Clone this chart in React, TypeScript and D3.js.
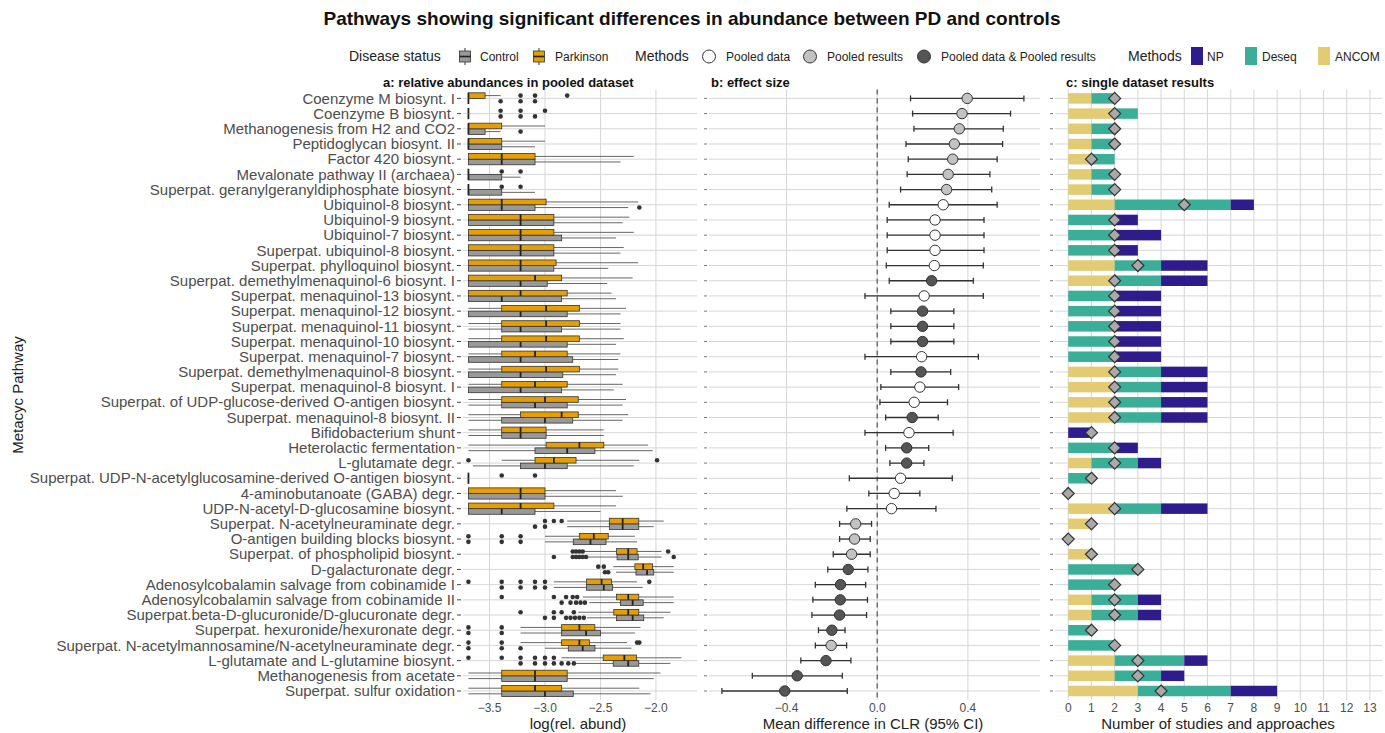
import React from 'react';
import * as d3 from 'd3';

const categories = [
  'Coenzyme M biosynt. I',
  'Coenzyme B biosynt.',
  'Methanogenesis from H2 and CO2',
  'Peptidoglycan biosynt. II',
  'Factor 420 biosynt.',
  'Mevalonate pathway II (archaea)',
  'Superpat. geranylgeranyldiphosphate biosynt.',
  'Ubiquinol-8 biosynt.',
  'Ubiquinol-9 biosynt.',
  'Ubiquinol-7 biosynt.',
  'Superpat. ubiquinol-8 biosynt.',
  'Superpat. phylloquinol biosynt.',
  'Superpat. demethylmenaquinol-6 biosynt. I',
  'Superpat. menaquinol-13 biosynt.',
  'Superpat. menaquinol-12 biosynt.',
  'Superpat. menaquinol-11 biosynt.',
  'Superpat. menaquinol-10 biosynt.',
  'Superpat. menaquinol-7 biosynt.',
  'Superpat. demethylmenaquinol-8 biosynt.',
  'Superpat. menaquinol-8 biosynt. I',
  'Superpat. of UDP-glucose-derived O-antigen biosynt.',
  'Superpat. menaquinol-8 biosynt. II',
  'Bifidobacterium shunt',
  'Heterolactic fermentation',
  'L-glutamate degr.',
  'Superpat. UDP-N-acetylglucosamine-derived O-antigen biosynt.',
  '4-aminobutanoate (GABA) degr.',
  'UDP-N-acetyl-D-glucosamine biosynt.',
  'Superpat. N-acetylneuraminate degr.',
  'O-antigen building blocks biosynt.',
  'Superpat. of phospholipid biosynt.',
  'D-galacturonate degr.',
  'Adenosylcobalamin salvage from cobinamide I',
  'Adenosylcobalamin salvage from cobinamide II',
  'Superpat.beta-D-glucuronide/D-glucuronate degr.',
  'Superpat. hexuronide/hexuronate degr.',
  'Superpat. N-acetylmannosamine/N-acetylneuraminate degr.',
  'L-glutamate and L-glutamine biosynt.',
  'Methanogenesis from acetate',
  'Superpat. sulfur oxidation',
];

// Panel a: [lower whisker, q1, median, q3, upper whisker]
const parkinsonStats = [
  [-3.69, -3.69, -3.69, -3.54, -3.4],
  [-3.69, -3.69, -3.69, -3.69, -3.69],
  [-3.69, -3.69, -3.69, -3.39, -3.0],
  [-3.69, -3.69, -3.69, -3.39, -3.0],
  [-3.69, -3.69, -3.39, -3.09, -2.2],
  [-3.69, -3.69, -3.69, -3.69, -3.69],
  [-3.69, -3.69, -3.69, -3.69, -3.69],
  [-3.69, -3.69, -3.39, -2.99, -2.16],
  [-3.69, -3.69, -3.22, -2.92, -2.24],
  [-3.69, -3.69, -3.22, -2.92, -2.2],
  [-3.69, -3.69, -3.22, -2.92, -2.29],
  [-3.69, -3.69, -3.22, -2.9, -2.16],
  [-3.69, -3.69, -3.09, -2.85, -2.21],
  [-3.69, -3.69, -3.22, -2.8, -2.4],
  [-3.69, -3.39, -2.99, -2.69, -2.27],
  [-3.69, -3.39, -2.99, -2.69, -2.32],
  [-3.69, -3.39, -2.99, -2.69, -2.29],
  [-3.69, -3.39, -3.09, -2.8, -2.32],
  [-3.69, -3.39, -2.99, -2.69, -2.34],
  [-3.69, -3.39, -3.09, -2.8, -2.3],
  [-3.69, -3.39, -3.0, -2.7, -2.27],
  [-3.69, -3.22, -2.85, -2.7, -2.25],
  [-3.69, -3.39, -3.22, -2.99, -2.47],
  [-3.69, -2.99, -2.69, -2.47, -2.07],
  [-3.39, -3.09, -2.92, -2.72, -2.15],
  [-3.69, -3.69, -3.69, -3.69, -3.69],
  [-3.69, -3.69, -3.22, -3.0, -2.36],
  [-3.69, -3.69, -3.22, -2.92, -2.36],
  [-2.8, -2.42, -2.3, -2.155, -1.93],
  [-3.0, -2.69, -2.56, -2.43, -2.19],
  [-2.65, -2.355, -2.25, -2.17, -1.95],
  [-2.385, -2.19, -2.115, -2.03, -1.84],
  [-2.92, -2.625, -2.49, -2.4, -2.17],
  [-2.66, -2.355, -2.25, -2.155, -1.84],
  [-2.7, -2.38, -2.25, -2.155, -1.87],
  [-3.22, -2.85, -2.69, -2.55, -2.14],
  [-3.22, -2.85, -2.69, -2.6, -2.26],
  [-2.85, -2.475, -2.285, -2.175, -1.77],
  [-3.69, -3.39, -3.09, -2.8, -1.96],
  [-3.69, -3.39, -3.09, -2.85, -2.15],
];
const parkinsonOutliers = [
  [-3.22, -3.09, -2.8], [-3.4, -3.22, -3.0], [], [], [], [-3.39, -3.22], [-3.39, -3.22], [], [], [],
  [], [], [], [], [], [], [], [], [], [],
  [], [], [], [], [-3.69, -1.99], [-3.39, -3.09], [], [], [-3.0, -2.92, -2.85], [-3.69, -3.39, -3.22],
  [-2.75, -2.72, -2.69, -2.66, -1.89], [-2.52, -2.47], [-3.69, -3.39, -3.22, -3.09, -3.0, -2.06],
  [-3.39, -2.92, -2.81, -2.75, -2.71], [-3.22, -2.92, -2.85, -2.74], [-3.69, -3.39],
  [-3.69, -3.39, -2.17, -2.15], [-3.69, -3.39, -3.22, -3.09, -3.0, -2.92], [], [],
];
const controlStats = [
  [-3.69, -3.69, -3.69, -3.69, -3.69],
  [-3.69, -3.69, -3.69, -3.69, -3.69],
  [-3.69, -3.69, -3.69, -3.54, -3.4],
  [-3.69, -3.69, -3.69, -3.39, -3.09],
  [-3.69, -3.69, -3.39, -3.09, -2.32],
  [-3.69, -3.69, -3.69, -3.39, -3.22],
  [-3.69, -3.69, -3.69, -3.39, -3.09],
  [-3.69, -3.69, -3.39, -3.09, -2.25],
  [-3.69, -3.69, -3.22, -2.92, -2.3],
  [-3.69, -3.69, -3.22, -2.85, -2.36],
  [-3.69, -3.69, -3.22, -2.92, -2.32],
  [-3.69, -3.69, -3.22, -2.92, -2.43],
  [-3.69, -3.69, -3.22, -2.98, -2.44],
  [-3.69, -3.69, -3.39, -2.85, -2.36],
  [-3.69, -3.69, -3.22, -2.8, -2.32],
  [-3.69, -3.39, -3.22, -2.85, -2.32],
  [-3.69, -3.69, -3.22, -2.8, -2.36],
  [-3.69, -3.69, -3.22, -2.75, -2.34],
  [-3.69, -3.69, -3.22, -2.84, -2.36],
  [-3.69, -3.69, -3.22, -2.85, -2.38],
  [-3.69, -3.39, -3.09, -2.8, -2.3],
  [-3.69, -3.39, -3.0, -2.75, -2.3],
  [-3.69, -3.39, -3.22, -2.99, -2.47],
  [-3.69, -3.09, -2.8, -2.55, -2.03],
  [-3.65, -3.22, -3.0, -2.8, -2.2],
  [-3.69, -3.69, -3.69, -3.69, -3.69],
  [-3.69, -3.69, -3.22, -3.0, -2.3],
  [-3.69, -3.69, -3.39, -3.09, -2.5],
  [-2.8, -2.42, -2.3, -2.155, -2.02],
  [-3.0, -2.745, -2.59, -2.45, -2.17],
  [-2.62, -2.35, -2.25, -2.16, -1.95],
  [-2.36, -2.18, -2.08, -2.02, -1.84],
  [-2.92, -2.625, -2.47, -2.39, -2.12],
  [-2.6, -2.32, -2.21, -2.115, -1.84],
  [-2.62, -2.355, -2.21, -2.11, -1.93],
  [-3.22, -2.85, -2.63, -2.5, -2.19],
  [-3.0, -2.79, -2.66, -2.55, -2.22],
  [-2.72, -2.385, -2.25, -2.155, -1.87],
  [-3.69, -3.39, -3.09, -2.8, -2.02],
  [-3.69, -3.39, -3.0, -2.745, -2.05],
];
const controlOutliers = [
  [-3.4, -3.22, -3.09], [-3.4, -3.22, -3.09], [-3.22], [], [], [], [], [-2.15], [], [],
  [], [], [], [], [], [], [], [], [], [],
  [], [], [], [], [], [], [], [], [-3.09, -3.0], [-3.69, -3.39, -3.22],
  [-2.92, -2.75, -2.72, -2.69, -2.66, -2.63, -1.84], [-2.46, -2.43], [-3.39, -3.22, -3.09, -3.0],
  [-2.85, -2.77, -2.72, -2.68, -2.64], [-3.0, -2.92, -2.81, -2.77, -2.73, -2.69, -2.65], [-3.69, -3.39],
  [-3.69, -3.39, -3.22], [-3.22, -3.09, -3.0, -2.92, -2.85, -2.79, -2.74], [], [],
];

// Panel b
const effectSize = [
  0.397, 0.374, 0.362, 0.34, 0.333, 0.313, 0.306, 0.291, 0.255, 0.255,
  0.255, 0.252, 0.24, 0.207, 0.2, 0.2, 0.2, 0.196, 0.193, 0.188,
  0.163, 0.154, 0.14, 0.13, 0.13, 0.103, 0.075, 0.063, -0.095, -0.1,
  -0.113, -0.128, -0.162, -0.163, -0.166, -0.2, -0.203, -0.226, -0.353, -0.408,
];
const ciLower = [
  0.147, 0.156, 0.162, 0.127, 0.137, 0.132, 0.103, 0.053, 0.044, 0.044,
  0.044, 0.04, 0.053, -0.054, 0.06, 0.06, 0.06, -0.054, 0.06, 0.016,
  0.012, 0.037, -0.054, 0.037, 0.056, -0.123, -0.037, -0.134, -0.166, -0.166,
  -0.194, -0.218, -0.273, -0.284, -0.288, -0.259, -0.273, -0.337, -0.551, -0.685,
];
const ciUpper = [
  0.647, 0.588, 0.556, 0.553, 0.529, 0.497, 0.505, 0.529, 0.471, 0.471,
  0.471, 0.468, 0.424, 0.468, 0.338, 0.338, 0.338, 0.446, 0.324, 0.359,
  0.31, 0.269, 0.335, 0.227, 0.206, 0.331, 0.188, 0.259, -0.025, -0.031,
  -0.031, -0.041, -0.051, -0.043, -0.047, -0.142, -0.135, -0.116, -0.154, -0.132,
];
const pooledMethod = [
  'results', 'results', 'results', 'results', 'results', 'results', 'results', 'data', 'data', 'data',
  'data', 'data', 'both', 'data', 'both', 'both', 'both', 'data', 'both', 'data',
  'data', 'both', 'data', 'both', 'both', 'data', 'data', 'data', 'results', 'results',
  'results', 'both', 'both', 'both', 'both', 'both', 'results', 'both', 'both', 'both',
];

// Panel c
const ancomCount = [1, 2, 1, 1, 1, 1, 1, 2, 0, 0, 0, 2, 2, 0, 0, 0, 0, 0, 2, 2, 2, 2, 0, 0, 1, 0, 0, 2, 1, 0, 1, 0, 0, 1, 1, 0, 0, 2, 2, 3];
const deseqCount = [1, 1, 1, 1, 1, 1, 1, 5, 2, 2, 2, 2, 2, 2, 2, 2, 2, 2, 2, 2, 2, 2, 0, 2, 2, 1, 0, 2, 0, 0, 0, 3, 2, 2, 2, 1, 2, 3, 2, 4];
const npCount = [0, 0, 0, 0, 0, 0, 0, 1, 1, 2, 1, 2, 2, 2, 2, 2, 2, 2, 2, 2, 2, 2, 1, 1, 1, 0, 0, 2, 0, 0, 0, 0, 0, 1, 1, 0, 0, 1, 1, 2];
const studyCount = [2, 2, 2, 2, 1, 2, 2, 5, 2, 2, 2, 3, 2, 2, 2, 2, 2, 2, 2, 2, 2, 2, 1, 2, 2, 1, 0, 2, 1, 0, 1, 3, 2, 2, 2, 1, 2, 3, 3, 4];

const ticksA = [-3.5, -3.0, -2.5, -2.0];
const ticksB = [-0.4, 0.0, 0.4];
const ticksC = [0, 1, 2, 3, 4, 5, 6, 7, 8, 9, 10, 11, 12, 13];

const FONT = "'Liberation Sans', Arial, Helvetica, sans-serif";
const C_PD = '#E69F00';
const C_CTRL = '#999999';
const C_NP = '#2E1C8C';
const C_DESEQ = '#3BAE97';
const C_ANCOM = '#E2CB72';
const POINT_FILL: Record<string, string> = { data: '#ffffff', results: '#c2c2c2', both: '#555555' };
const GRID = '#d6d6d6';

export default function App() {
  const W = 1385, H = 733;
  const panelTop = 89.5, panelBottom = 700;
  const y = d3.scalePoint<string>().domain(categories).range([98.4, 691]);
  const xa = d3.scaleLinear().domain([-3.739, -1.63]).range([463, 697]);
  const xb = d3.scaleLinear().domain([-0.742, 0.718]).range([709, 1040]);
  const xc = d3.scaleLinear().domain([-0.57, 13.52]).range([1055, 1382]);
  const bh = 5.6;
  const barH = 10.5;

  const boxGroup = (stats: number[], outs: number[], y0: number, fill: string, key: string) => {
    const [lo, q1, med, q3, hi] = stats;
    const yc = y0 + bh / 2;
    return (
      <g key={key}>
        <line x1={xa(lo)} x2={xa(q1)} y1={yc} y2={yc} stroke="#555" strokeWidth={0.9} />
        <line x1={xa(q3)} x2={xa(hi)} y1={yc} y2={yc} stroke="#555" strokeWidth={0.9} />
        <rect x={xa(q1)} y={y0} width={Math.max(0, xa(q3) - xa(q1))} height={bh} fill={fill} stroke="#333" strokeWidth={0.8} />
        <line x1={xa(med)} x2={xa(med)} y1={y0} y2={y0 + bh} stroke="#222" strokeWidth={1.8} />
        {outs.map((o, j) => (
          <circle key={j} cx={xa(o)} cy={yc} r={2.3} fill="#333" />
        ))}
      </g>
    );
  };

  const diamond = (cx: number, cy: number, s: number) =>
    `M${cx},${cy - s}L${cx + s},${cy}L${cx},${cy + s}L${cx - s},${cy}Z`;

  return (
    <svg width={W} height={H} style={{ position: 'absolute', left: 0, top: 0, background: '#fff' }} fontFamily={FONT}>
      <rect x={0} y={0} width={W} height={H} fill="#fff" />
      {/* Title */}
      <text x={692} y={25} textAnchor="middle" fontSize={19} fontWeight="bold" fill="#111">
        Pathways showing significant differences in abundance between PD and controls
      </text>

      {/* Legend */}
      <g fontSize={12} fill="#222">
        <text x={349} y={61} fontSize={14}>Disease status</text>
        {[{ cx: 465, fill: C_CTRL, label: 'Control', tx: 480 }, { cx: 539, fill: C_PD, label: 'Parkinson', tx: 555 }].map((d) => (
          <g key={d.label}>
            <line x1={d.cx} x2={d.cx} y1={48} y2={65} stroke="#333" strokeWidth={1} />
            <rect x={d.cx - 5.5} y={51} width={11} height={11} fill={d.fill} stroke="#333" strokeWidth={0.8} />
            <line x1={d.cx - 5.5} x2={d.cx + 5.5} y1={56.5} y2={56.5} stroke="#222" strokeWidth={1.6} />
            <text x={d.tx} y={60.5}>{d.label}</text>
          </g>
        ))}
        <text x={635} y={61} fontSize={14}>Methods</text>
        {[{ cx: 709, fill: POINT_FILL.data, label: 'Pooled data', tx: 726 },
          { cx: 810, fill: POINT_FILL.results, label: 'Pooled results', tx: 827 },
          { cx: 924, fill: POINT_FILL.both, label: 'Pooled data & Pooled results', tx: 941 }].map((d) => (
          <g key={d.label}>
            <circle cx={d.cx} cy={56.5} r={6.5} fill={d.fill} stroke="#333" strokeWidth={1} />
            <text x={d.tx} y={60.5}>{d.label}</text>
          </g>
        ))}
        <text x={1128} y={61} fontSize={14}>Methods</text>
        {[{ x: 1191, fill: C_NP, label: 'NP', tx: 1207 },
          { x: 1245, fill: C_DESEQ, label: 'Deseq', tx: 1262 },
          { x: 1318, fill: C_ANCOM, label: 'ANCOM', tx: 1335 }].map((d) => (
          <g key={d.label}>
            <rect x={d.x} y={47} width={12} height={18} fill={d.fill} />
            <text x={d.tx} y={60.5}>{d.label}</text>
          </g>
        ))}
      </g>

      {/* Panel subtitles */}
      <g fontSize={13} fontWeight="bold" fill="#111">
        <text x={383} y={87}>a: relative abundances in pooled dataset</text>
        <text x={711} y={87}>b: effect size</text>
        <text x={1066} y={87}>c: single dataset results</text>
      </g>

      {/* Y axis title */}
      <text transform={`translate(23,395) rotate(-90)`} textAnchor="middle" fontSize={15} fill="#222">Metacyc Pathway</text>

      {/* Panel a */}
      <g>
        {ticksA.map((t) => (
          <line key={t} x1={xa(t)} x2={xa(t)} y1={panelTop} y2={panelBottom} stroke={GRID} strokeWidth={1} />
        ))}
        {categories.map((c) => (
          <line key={c} x1={463} x2={697} y1={y(c)} y2={y(c)} stroke={GRID} strokeWidth={1} />
        ))}
        {categories.map((c, i) => (
          <g key={c}>
            <text x={455} y={(y(c) as number) + 5.2} textAnchor="end" fontSize={15} fill="#4d4d4d">{c}</text>
            <line x1={457} x2={461} y1={y(c)} y2={y(c)} stroke="#444" strokeWidth={1} />
            {boxGroup(controlStats[i], controlOutliers[i], y(c) as number, C_CTRL, 'c')}
            {boxGroup(parkinsonStats[i], parkinsonOutliers[i], (y(c) as number) - bh, C_PD, 'p')}
          </g>
        ))}
        {ticksA.map((t) => (
          <text key={t} x={xa(t)} y={712} textAnchor="middle" fontSize={12} fill="#4d4d4d">{d3.format('.1f')(t)}</text>
        ))}
        <text x={578} y={729} textAnchor="middle" fontSize={15} fill="#222">log(rel. abund)</text>
      </g>

      {/* Panel b */}
      <g>
        {ticksB.map((t) => (
          <line key={t} x1={xb(t)} x2={xb(t)} y1={panelTop} y2={panelBottom} stroke={GRID} strokeWidth={1} />
        ))}
        {categories.map((c) => (
          <g key={c}>
            <line x1={709} x2={1040} y1={y(c)} y2={y(c)} stroke={GRID} strokeWidth={1} />
            <line x1={704} x2={707} y1={y(c)} y2={y(c)} stroke="#777" strokeWidth={1} />
          </g>
        ))}
        <line x1={xb(0)} x2={xb(0)} y1={panelTop} y2={panelBottom} stroke="#555" strokeWidth={1.2} strokeDasharray="5,4" />
        {categories.map((c, i) => {
          const yc = y(c) as number;
          return (
            <g key={c}>
              <line x1={xb(ciLower[i])} x2={xb(ciUpper[i])} y1={yc} y2={yc} stroke="#333" strokeWidth={1.3} />
              <line x1={xb(ciLower[i])} x2={xb(ciLower[i])} y1={yc - 3} y2={yc + 3} stroke="#333" strokeWidth={1.3} />
              <line x1={xb(ciUpper[i])} x2={xb(ciUpper[i])} y1={yc - 3} y2={yc + 3} stroke="#333" strokeWidth={1.3} />
              <circle cx={xb(effectSize[i])} cy={yc} r={5.2} fill={POINT_FILL[pooledMethod[i]]} stroke="#333" strokeWidth={1} />
            </g>
          );
        })}
        {ticksB.map((t) => (
          <text key={t} x={xb(t)} y={712} textAnchor="middle" fontSize={12} fill="#4d4d4d">{d3.format('.1f')(t)}</text>
        ))}
        <text x={873} y={729} textAnchor="middle" fontSize={15} fill="#222">Mean difference in CLR (95% CI)</text>
      </g>

      {/* Panel c */}
      <g>
        {ticksC.map((t) => (
          <line key={t} x1={xc(t)} x2={xc(t)} y1={panelTop} y2={panelBottom} stroke={GRID} strokeWidth={1} />
        ))}
        {categories.map((c) => (
          <g key={c}>
            <line x1={1055} x2={1382} y1={y(c)} y2={y(c)} stroke={GRID} strokeWidth={1} />
            <line x1={1050} x2={1053} y1={y(c)} y2={y(c)} stroke="#777" strokeWidth={1} />
          </g>
        ))}
        {categories.map((c, i) => {
          const yc = y(c) as number;
          const a = ancomCount[i], d = deseqCount[i], n = npCount[i];
          return (
            <g key={c}>
              {a > 0 && <rect x={xc(0)} y={yc - barH / 2} width={xc(a) - xc(0)} height={barH} fill={C_ANCOM} />}
              {d > 0 && <rect x={xc(a)} y={yc - barH / 2} width={xc(a + d) - xc(a)} height={barH} fill={C_DESEQ} />}
              {n > 0 && <rect x={xc(a + d)} y={yc - barH / 2} width={xc(a + d + n) - xc(a + d)} height={barH} fill={C_NP} />}
              <path d={diamond(xc(studyCount[i]), yc, 6)} fill="#a9a9a9" stroke="#333" strokeWidth={1.2} />
            </g>
          );
        })}
        {ticksC.map((t) => (
          <text key={t} x={xc(t)} y={712} textAnchor="middle" fontSize={12} fill="#4d4d4d">{t}</text>
        ))}
        <text x={1218} y={729} textAnchor="middle" fontSize={15} fill="#222">Number of studies and approaches</text>
      </g>
    </svg>
  );
}
